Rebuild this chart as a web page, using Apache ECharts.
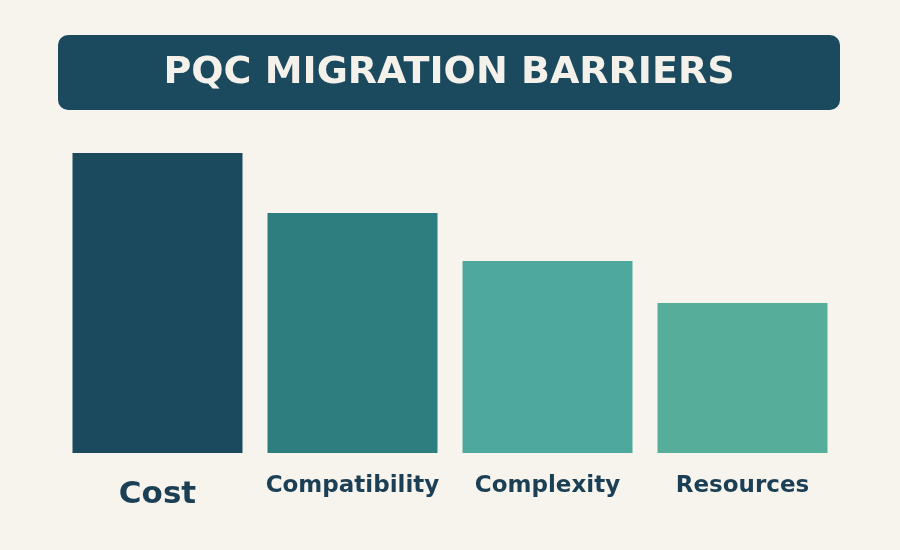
<!DOCTYPE html>
<html><head><meta charset="utf-8">
<script src="https://cdn.jsdelivr.net/npm/echarts@6/dist/echarts.min.js"></script>
<style>html,body{margin:0;background:#f7f4ee}#c{width:900px;height:550px}</style>
</head><body><div id="c"></div>
<script>
const categories = ['Cost','Compatibility','Complexity','Resources'];
const values = [100, 80, 64, 50];
const colors = ['#1b4a5e','#2e7d7f','#4fa89d','#56ad9a'];
const chart = echarts.init(document.getElementById('c'));
chart.setOption({
  backgroundColor:'#f7f4ee',
  graphic:[
    {type:'rect',shape:{x:58,y:35,width:782,height:75,r:10},style:{fill:'#1b4a5e'}},
    {type:'text',x:449,y:73,style:{text:'PQC MIGRATION BARRIERS',fill:'#f4f1ea',font:'bold 38px "DejaVu Sans"',align:'center',verticalAlign:'middle'}}
  ],
  grid:{left:60,right:60,top:153,bottom:97},
  xAxis:{type:'category',data:categories,axisLine:{show:false},axisTick:{show:false},
    axisLabel:{margin:22,color:'#1b3f55',fontWeight:'bold',fontFamily:'DejaVu Sans',
      formatter:(v,i)=>i===0?'{b|'+v+'}':'{s|'+v+'}',
      rich:{b:{fontSize:31,fontWeight:'bold',color:'#1b3f55',padding:[4,0,0,0]},s:{fontSize:23,fontWeight:'bold',color:'#1b3f55'}}}},
  yAxis:{type:'value',min:0,max:100,show:false},
  series:[{type:'bar',barWidth:170,data:values.map((v,i)=>({value:v,itemStyle:{color:colors[i]}}))}]
});
</script></body></html>
